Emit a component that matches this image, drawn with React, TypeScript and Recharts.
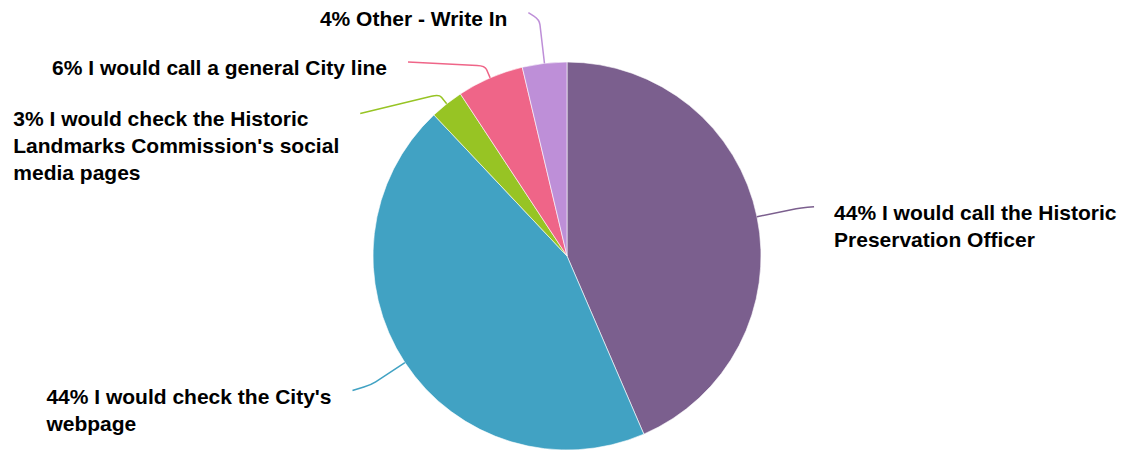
import { PieChart, Pie, Cell } from "recharts";

const categories = [
  "I would call the Historic Preservation Officer",
  "I would check the City's webpage",
  "I would check the Historic Landmarks Commission's social media pages",
  "I would call a general City line",
  "Other - Write In",
];
const responses = [47, 48, 3, 6, 4];
const colors = ["#7b5f8e", "#41a2c3", "#97c424", "#ef6588", "#be8fd8"];

// leader line shape per slice: radial stub length, then offset to the end point
const labelLayout = [
  { ext: 45, dx: 13, dy: -1 },
  { ext: 40, dx: -19, dy: 6 },
  { ext: 12, dx: -79, dy: 19 },
  { ext: 13, dx: -77, dy: -4 },
  { ext: 44, dx: -11, dy: -7 },
];

const data = categories.map((name, i) => ({ name, value: responses[i] }));

const FONT = "'Liberation Sans', Arial, Helvetica, sans-serif";
const FONT_SIZE = 21;
const LINE_H = 27;
const WRAP = 350;
const RAD = Math.PI / 180;

let ctx: CanvasRenderingContext2D | null = null;
const measure = (s: string) => {
  if (!ctx) {
    ctx = document.createElement("canvas").getContext("2d");
    if (ctx) ctx.font = `bold ${FONT_SIZE}px ${FONT}`;
  }
  return ctx ? ctx.measureText(s).width : s.length * 11;
};

const wrap = (text: string) => {
  const words = text.split(" ");
  const lines: string[] = [];
  let cur = "";
  words.forEach((w) => {
    const next = cur ? cur + " " + w : w;
    if (cur && measure(next) > WRAP) {
      lines.push(cur);
      cur = w;
    } else {
      cur = next;
    }
  });
  if (cur) lines.push(cur);
  return lines;
};

const renderLabel = (props: any) => {
  const { cx, cy, midAngle, outerRadius, percent, index, name } = props;
  const lay = labelLayout[index];
  const cos = Math.cos(-midAngle * RAD);
  const sin = Math.sin(-midAngle * RAD);
  const sx = cx + outerRadius * cos;
  const sy = cy + outerRadius * sin;
  const ex = cx + (outerRadius + lay.ext) * cos;
  const ey = cy + (outerRadius + lay.ext) * sin;
  const tx = ex + lay.dx;
  const ty = ey + lay.dy;
  const back = Math.min(5, lay.ext * 0.3);
  const p1x = ex - back * cos;
  const p1y = ey - back * sin;
  const len = Math.hypot(lay.dx, lay.dy);
  const fwd = Math.min(8, len / 2);
  const p2x = ex + (lay.dx / len) * fwd;
  const p2y = ey + (lay.dy / len) * fwd;
  const d = `M${sx},${sy} L${p1x},${p1y} Q${ex},${ey} ${p2x},${p2y} L${tx},${ty}`;

  const lines = wrap(`${Math.round(percent * 100)}% ${name}`);
  const right = tx > cx;
  const blockW = Math.max(...lines.map(measure));
  const x = right ? tx + 20 : tx - 21 - blockW;
  const y0 = ty + 13;

  return (
    <g key={`lbl-${index}`}>
      <path d={d} fill="none" stroke={colors[index]} strokeWidth={1.5} />
      <text
        x={x}
        y={y0}
        fontFamily={FONT}
        fontSize={FONT_SIZE}
        fontWeight="bold"
        fill="#000"
        textAnchor="start"
      >
        {lines.map((l, i) => (
          <tspan key={i} x={x} y={y0 + i * LINE_H}>
            {l}
          </tspan>
        ))}
      </text>
    </g>
  );
};

const App = () => {
  return (
    <div style={{ position: "absolute", left: 0, top: 0, background: "#fff" }}>
      <PieChart width={1125} height={451} margin={{ top: 0, right: 0, bottom: 0, left: 0 }}>
        <Pie
          data={data}
          dataKey="value"
          nameKey="name"
          cx={567}
          cy={256}
          outerRadius={194}
          startAngle={90}
          endAngle={-270}
          stroke="#ffffff"
          strokeWidth={0.6}
          label={renderLabel}
          labelLine={false}
          isAnimationActive={false}
        >
          {data.map((d, i) => (
            <Cell key={d.name} fill={colors[i]} />
          ))}
        </Pie>
      </PieChart>
    </div>
  );
};

export default App;
